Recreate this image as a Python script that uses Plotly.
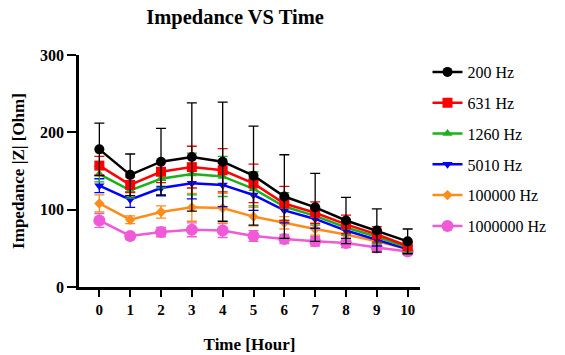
import plotly.graph_objects as go

hours = [0, 1, 2, 3, 4, 5, 6, 7, 8, 9, 10]
tick_labels = ["0", "1", "2", "3", "4", "5", "6", "7", "8", "9", "10"]

names = ["200 Hz", "631 Hz", "1260 Hz", "5010 Hz", "100000 Hz", "1000000 Hz"]

z_200 = [178, 145, 162, 168, 162, 144, 117, 103, 86, 73, 59]
e_200 = [34, 27, 43, 70, 77, 64, 54, 44, 30, 28, 16]
z_631 = [157, 132, 149, 155, 151, 134, 108, 96, 81, 68, 53]
e_631 = [12, 10, 14, 27, 28, 25, 22, 14, 12, 10, 6]
z_1260 = [146, 125, 140, 146, 143, 127, 104, 92, 77, 65, 51]
e_1260 = [10, 10, 12, 27, 26, 22, 18, 12, 10, 9, 6]
z_5010 = [131, 113, 128, 134, 132, 119, 99, 88, 73, 61, 49]
e_5010 = [9, 10, 10, 20, 28, 20, 16, 12, 10, 8, 5]
z_100k = [108, 87, 97, 103, 102, 91, 83, 75, 68, 59, 49]
e_100k = [11, 5, 8, 18, 19, 12, 8, 8, 6, 6, 4]
z_1m = [86, 66, 71, 74, 73, 66, 62, 59, 57, 51, 46]
e_1m = [9, 4, 6, 9, 9, 7, 6, 6, 6, 5, 4]

values = [z_200, z_631, z_1260, z_5010, z_100k, z_1m]
errors = [e_200, e_631, e_1260, e_5010, e_100k, e_1m]
colors = ["#000000", "#FF0000", "#1DB01D", "#0000FF", "#FF8C1A", "#F05AD6"]
symbols = ["circle", "square", "triangle-up", "triangle-down", "diamond", "circle"]
sizes = [10, 10, 9, 9, 8, 12]

FONT = "Liberation Serif"

fig = go.Figure()
order = list(range(len(names)))
for i in reversed(order):
    fig.add_trace(go.Scatter(
        x=hours, y=values[i], name=names[i],
        mode="lines+markers",
        line=dict(color=colors[i], width=2.5),
        marker=dict(color=colors[i], symbol=symbols[i], size=sizes[i]),
        error_y=dict(type="data", array=errors[i], visible=True,
                     color=colors[i], thickness=1.3, width=5),
        legendgroup=names[i],
        legendrank=i + 1,
    ))

fig.update_layout(
    width=565, height=355,
    margin=dict(l=79, r=145, t=55, b=68, autoexpand=False),
    paper_bgcolor="white", plot_bgcolor="white",
    font=dict(family=FONT, color="black"),
    title=dict(text="Impedance VS Time", x=0.416, xanchor="center",
               y=0.952, yanchor="middle",
               font=dict(family=FONT, size=20.5, weight="bold", color="black")),
    showlegend=True,
    legend=dict(x=1.022, y=1.0, xanchor="left", yanchor="top",
                font=dict(family=FONT, size=16, color="black"),
                tracegroupgap=7, traceorder="grouped",
                bgcolor="rgba(0,0,0,0)"),
)

fig.update_xaxes(
    range=[-0.66, 10.4], automargin=False,
    tickmode="array", tickvals=hours, ticktext=tick_labels,
    showline=True, linecolor="black", linewidth=2.5,
    ticks="outside", ticklen=7, tickwidth=2, tickcolor="black",
    showgrid=False, zeroline=False,
    tickfont=dict(family=FONT, size=15, weight="bold", color="black"),
    title=dict(text="Time [Hour]", standoff=22,
               font=dict(family=FONT, size=17, weight="bold", color="black")),
)
fig.update_yaxes(
    range=[0, 300], automargin=False,
    tickmode="array", tickvals=[0, 100, 200, 300],
    showline=True, linecolor="black", linewidth=2.5,
    ticks="outside", ticklen=9, tickwidth=2, tickcolor="black",
    showgrid=False, zeroline=False,
    tickfont=dict(family=FONT, size=16, weight="bold", color="black"),
    title=dict(text="Impedance |Z| [Ohm]", standoff=12,
               font=dict(family=FONT, size=17, weight="bold", color="black")),
)

fig.write_html("out.html")
